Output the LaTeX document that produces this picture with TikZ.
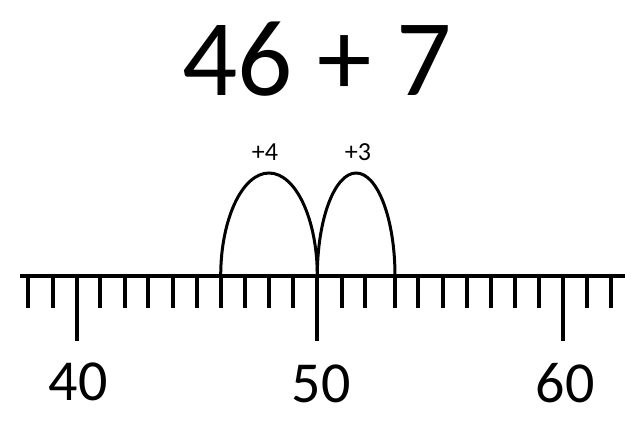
\documentclass[tikz,border=0pt]{standalone}
\usepackage{fontspec}
\setmainfont{Carlito}
\tikzset{
  axisline/.style={line width=3.6pt},
  tickmark/.style={line width=4pt},
  hop/.style={line width=3pt},
  bignum/.style={anchor=base,inner sep=0pt,font=\fontsize{109}{120}\selectfont},
  axisnum/.style={anchor=base,inner sep=0pt,font=\fontsize{58}{64}\selectfont},
  hoplabel/.style={anchor=base,inner sep=0pt,font=\fontsize{26}{30}\selectfont},
}
\begin{document}
\begin{tikzpicture}[x=1pt,y=-1pt]
\useasboundingbox (0,0) rectangle (640,445);
% title
\node[bignum] (title) at (317,95) {46 + 7};
% axis
\coordinate (L) at (20,276);
\coordinate (R) at (625,276);
\draw[axisline] (L) -- (R);
% ticks
\foreach \x [count=\i from 38] in {28.3,52.7,76.7,100,125,148.3,172.7,196.7,220.7,245,269.3,293.3,317.3,341.7,365,395,418.3,442.7,466.7,490.7,515,539.3,563.3,587.3,610.7}{
  \coordinate (t\i) at (\x,276);
  \pgfmathtruncatemacro{\r}{mod(\i,10)}
  \ifnum\r=0
    \draw[tickmark] (t\i) -- ++(0,65);
  \else
    \draw[tickmark] (t\i) -- ++(0,32);
  \fi
}
% hops
\draw[hop] (t46) arc[start angle=180,end angle=0,x radius=48.3pt,y radius=103pt];
\draw[hop] (t50) arc[start angle=180,end angle=0,x radius=38.85pt,y radius=103pt];
\node[hoplabel] (h1) at (265,160) {+4};
\node[hoplabel] (h2) at (358,160) {+3};
% axis numbers
\node[axisnum] (n40) at (78,400) {40};
\node[axisnum] (n50) at (321,402) {50};
\node[axisnum] (n60) at (565,402) {60};
\end{tikzpicture}
\end{document}
